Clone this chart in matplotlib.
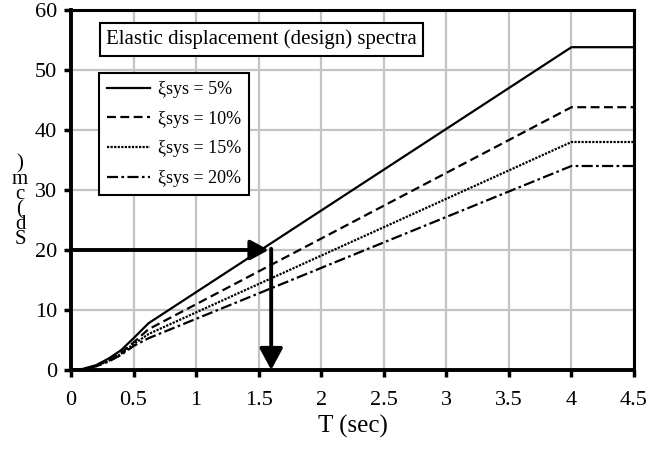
import matplotlib
matplotlib.use("Agg")
import matplotlib.pyplot as plt
from matplotlib.patches import FancyArrowPatch

plt.rcParams['font.family'] = ['Liberation Serif', 'DejaVu Serif']

# periodo T (sec)
periodi = [0, 0.1, 0.2, 0.3, 0.4, 0.5, 0.62, 4.0, 4.5]
# spostamento spettrale Sd (cm) per ogni smorzamento
sd5 = [0, 0.2, 0.8, 1.9, 3.3, 5.3, 7.8, 53.8, 53.8]
sd10 = [0, 0.2, 0.7, 1.7, 2.9, 4.6, 6.8, 43.8, 43.8]
sd15 = [0, 0.15, 0.65, 1.5, 2.7, 4.3, 6.0, 38.0, 38.0]
sd20 = [0, 0.15, 0.6, 1.4, 2.5, 4.0, 5.3, 34.0, 34.0]
etichette = ["ξsys = 5%", "ξsys = 10%", "ξsys = 15%", "ξsys = 20%"]

xTicks = [0, 0.5, 1, 1.5, 2, 2.5, 3, 3.5, 4, 4.5]
xLabels = ["0", "0.5", "1", "1.5", "2", "2.5", "3", "3.5", "4", "4.5"]
yTicks = [0, 10, 20, 30, 40, 50, 60]

# punto (freccia)
periodoFreccia = 1.6
sdFreccia = 20

fig = plt.figure(figsize=(6.49, 4.5), dpi=100)
ax = fig.add_axes([71 / 649, 1 - 370 / 450, (634 - 71) / 649, 360 / 450])

stili = ['-', (0, (4, 2)), (0, (1, 0.6)), (0, (5, 1.5, 1.2, 1.5))]
for serie, stile, nome in zip([sd5, sd10, sd15, sd20], stili, etichette):
    ax.plot(periodi, serie, color='black', linestyle=stile, lw=1.6, label=nome)

# frecce
ax.add_patch(FancyArrowPatch((0, sdFreccia), (periodoFreccia - 0.02, sdFreccia),
                             arrowstyle='-|>,head_length=11,head_width=6',
                             color='black', lw=2.8, shrinkA=0, shrinkB=0,
                             zorder=5, clip_on=False))
ax.add_patch(FancyArrowPatch((periodoFreccia, sdFreccia + 0.2), (periodoFreccia, 0),
                             arrowstyle='-|>,head_length=13,head_width=7',
                             color='black', lw=2.8, shrinkA=0, shrinkB=0,
                             zorder=5, clip_on=False))

ax.set_xlim(0, 4.5)
ax.set_ylim(0, 60)
ax.set_xticks(xTicks)
ax.set_xticklabels(xLabels)
ax.set_yticks(yTicks)
ax.grid(True, color='#c4c4c4', lw=1.6, ls='-')
ax.set_axisbelow(True)
ax.tick_params(axis='both', direction='out', length=5, width=2.5,
               labelsize=16, colors='black')
ax.tick_params(axis='x', pad=10)
ax.tick_params(axis='y', pad=5)
for lato in ['left', 'bottom']:
    ax.spines[lato].set_linewidth(2.8)
for lato in ['top', 'right']:
    ax.spines[lato].set_linewidth(2.2)

ax.set_xlabel("T (sec)", fontsize=18, labelpad=4)

# etichetta asse y: caratteri impilati come nell'originale
fig.text(20 / 649, 1 - 202 / 450, "\n".join([")", "m", "c", "(", "d", "S"]),
         fontsize=15, ha='center', va='center', ma='center', linespacing=0.72)

ax.text(0.28, 55.1, "Elastic displacement (design) spectra", fontsize=15,
        ha='left', va='center',
        bbox=dict(boxstyle='square,pad=0.3', fc='white', ec='black', lw=1.5))

leg = ax.legend(loc='upper left', bbox_to_anchor=((99 - 71) / 563, (370 - 73) / 360),
                fontsize=13, frameon=True, fancybox=False, framealpha=1,
                edgecolor='black', handlelength=2.4, labelspacing=0.7,
                borderpad=0.45, handletextpad=0.4, borderaxespad=0)
leg.get_frame().set_linewidth(1.5)

fig.savefig("out.png", dpi=100)
